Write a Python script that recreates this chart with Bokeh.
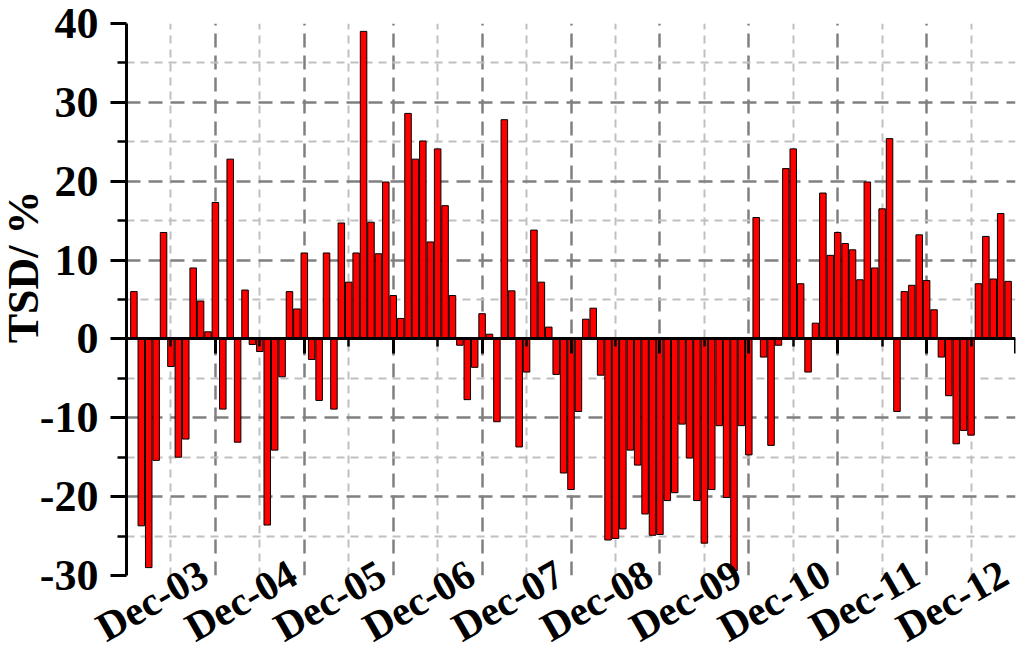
from bokeh.plotting import figure
from bokeh.models import LinearAxis, FixedTicker, Range1d, Title, ColumnDataSource, Grid
from bokeh.embed import file_html
from bokeh.resources import INLINE

# Monthly TSD (%) from Jan-03 to Nov-12 (index 0 = Jan-03)
tsd = [
    6.0, -23.7, -29.0, -15.4, 13.5, -3.5, -15.0, -12.7, 9.0, 4.8, 0.9, 17.3,
    -8.9, 22.8, -13.1, 6.2, -0.7, -1.6, -23.6, -14.1, -4.8, 6.0, 3.8, 10.9,
    -2.6, -7.8, 10.9, -8.9, 14.7, 7.2, 10.9, 39.0, 14.8, 10.8, 19.9, 5.5,
    2.6, 28.6, 22.8, 25.1, 12.3, 24.1, 16.9, 5.5, -0.8, -7.7, -3.6, 3.2,
    0.6, -10.5, 27.8, 6.1, -13.7, -4.2, 13.8, 7.2, 1.5, -4.5, -17.0, -19.1,
    -9.2, 2.5, 3.9, -4.6, -25.5, -25.3, -24.1, -14.1, -16.0, -22.2, -24.9, -24.8,
    -20.5, -19.5, -10.8, -15.1, -20.5, -25.9, -19.1, -11.0, -20.1, -29.4, -11.0, -14.7,
    15.4, -2.3, -13.5, -0.8, 21.6, 24.1, 7.0, -4.2, 2.0, 18.5, 10.6, 13.5,
    12.1, 11.3, 7.5, 19.9, 9.0, 16.5, 25.4, -9.2, 6.0, 6.8, 13.2, 7.4,
    3.7, -2.3, -7.2, -13.3, -11.6, -12.2, 7.0, 13.0, 7.6, 15.9, 7.3,
]
month_index = list(range(len(tsd)))

# December ticks (labelled) and June minor ticks, in month-index units
dec_ticks = [11, 23, 35, 47, 59, 71, 83, 95, 107, 119]
dec_labels = ["Dec-03", "Dec-04", "Dec-05", "Dec-06", "Dec-07",
              "Dec-08", "Dec-09", "Dec-10", "Dec-11", "Dec-12"]
jun_ticks = [5, 17, 29, 41, 53, 65, 77, 89, 101, 113]
y_ticks = [-30, -20, -10, 0, 10, 20, 30, 40]
y_tick_labels = ["-30", "-20", "-10", "0", "10", "20", "30", "40"]
y_minor = [-25, -15, -5, 5, 15, 25, 35]

FONT = "Liberation Serif"
LABEL_SHIFT = 1.5  # rotated labels end slightly left of their tick

p = figure(
    frame_width=889, frame_height=552,
    x_range=Range1d(-1, 119), y_range=Range1d(-30, 40),
    output_backend="svg", toolbar_location=None,
    min_border_left=126, min_border_top=23, min_border_right=4, min_border_bottom=20,
    x_axis_type=None, y_axis_type=None,
)
p.outline_line_color = None
p.background_fill_color = "white"

src = ColumnDataSource(dict(x=month_index, top=tsd))
p.vbar(x="x", top="top", bottom=0, width=0.88, source=src,
       fill_color="#ff0000", line_color="black", line_width=1)

# Bottom axis: labels only
label_pos = [t - LABEL_SHIFT for t in dec_ticks]
xax = LinearAxis(ticker=FixedTicker(ticks=label_pos, minor_ticks=[]))
xax.major_label_overrides = {t: l for t, l in zip(label_pos, dec_labels)}
xax.axis_line_color = None
xax.major_tick_line_color = None
xax.minor_tick_line_color = None
xax.major_tick_out = 0
xax.major_tick_in = 0
xax.major_label_standoff = -5
xax.major_label_orientation = 0.52
xax.major_label_text_font = FONT
xax.major_label_text_font_style = "bold"
xax.major_label_text_font_size = "41px"
xax.major_label_text_color = "black"
p.add_layout(xax, "below")

# Zero line axis with ticks
zax = LinearAxis(ticker=FixedTicker(ticks=dec_ticks, minor_ticks=jun_ticks), fixed_location=0)
zax.axis_line_width = 3
zax.axis_line_color = "black"
zax.major_tick_out = 15
zax.major_tick_in = 0
zax.minor_tick_out = 8
zax.minor_tick_in = 0
zax.major_tick_line_width = 3
zax.minor_tick_line_width = 2.5
zax.major_label_text_font_size = "0px"
zax.major_label_text_alpha = 0
p.add_layout(zax, "below")

# Left axis
yax = LinearAxis(ticker=FixedTicker(ticks=y_ticks, minor_ticks=y_minor))
yax.major_label_overrides = {t: l for t, l in zip(y_ticks, y_tick_labels)}
yax.axis_line_width = 3
yax.major_tick_out = 16
yax.major_tick_in = 0
yax.minor_tick_out = 9
yax.minor_tick_in = 0
yax.major_tick_line_width = 3
yax.minor_tick_line_width = 2.5
yax.major_label_standoff = 12
yax.major_label_text_font = FONT
yax.major_label_text_font_style = "bold"
yax.major_label_text_font_size = "44px"
yax.major_label_text_color = "black"
p.add_layout(yax, "left")

# Y axis title
ttl = Title(text="TSD/ %", align="right", offset=167, vertical_align="middle", standoff=-25,
            text_font=FONT, text_font_style="bold", text_font_size="44px", text_color="black")
p.add_layout(ttl, "left")

# Grids
xg = Grid(dimension=0, ticker=FixedTicker(ticks=dec_ticks[:-1], minor_ticks=jun_ticks))
xg.grid_line_color = "#808080"
xg.grid_line_width = 2.5
xg.grid_line_dash = "14 8"
xg.minor_grid_line_color = "#c0c0c0"
xg.minor_grid_line_width = 2
xg.minor_grid_line_dash = "8 6"
p.add_layout(xg)

yg = Grid(dimension=1, ticker=FixedTicker(ticks=y_ticks[:-1], minor_ticks=y_minor))
yg.grid_line_color = "#808080"
yg.grid_line_width = 2.5
yg.grid_line_dash = "14 8"
yg.minor_grid_line_color = "#c0c0c0"
yg.minor_grid_line_width = 2
yg.minor_grid_line_dash = "8 6"
p.add_layout(yg)

open("out.html", "w").write(file_html(p, INLINE))
